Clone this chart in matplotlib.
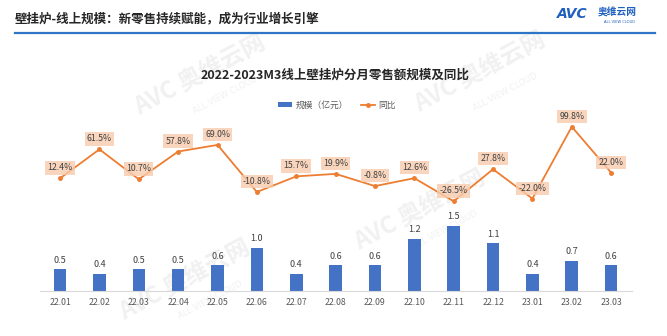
import numpy as np
import matplotlib
matplotlib.use("Agg")
import matplotlib.pyplot as plt
from matplotlib.lines import Line2D
from matplotlib.patches import Patch

plt.rcParams['font.family'] = ['Noto Sans CJK SC', 'DejaVu Sans']

# monthly online retail data
months = ['22.01', '22.02', '22.03', '22.04', '22.05', '22.06', '22.07', '22.08',
          '22.09', '22.10', '22.11', '22.12', '23.01', '23.02', '23.03']
scale = [0.5, 0.4, 0.5, 0.5, 0.6, 1.0, 0.4, 0.6, 0.6, 1.2, 1.5, 1.1, 0.4, 0.7, 0.6]
yoy = [12.4, 61.5, 10.7, 57.8, 69.0, -10.8, 15.7, 19.9, -0.8, 12.6, -26.5, 27.8, -22.0, 99.8, 22.0]

BLUE = '#4472C4'
ORANGE = '#ED7D31'
TEXT = '#404040'

fig = plt.figure(figsize=(6.67, 3.36), dpi=100)
fig.patch.set_facecolor('white')

# header
fig.text(15 / 667, 1 - 19 / 336, '壁挂炉-线上规模：新零售持续赋能，成为行业增长引擎',
         fontsize=9, fontweight='bold', color='#262626', va='center', ha='left')
fig.add_artist(Line2D([15 / 667, 655 / 667], [1 - 32.5 / 336] * 2, color='#2E75C8', lw=1.6))
fig.text(572 / 667, 1 - 14 / 336, 'AVC', fontsize=10, fontweight='bold', fontstyle='italic',
         color='#1F5FBF', ha='center', va='center', family=['DejaVu Sans'])
fig.text(617 / 667, 1 - 13 / 336, '奥维云网', fontsize=7, fontweight='bold',
         color='#1F5FBF', ha='center', va='center')
fig.text(619 / 667, 1 - 22 / 336, 'ALL VIEW CLOUD', fontsize=2.6,
         color='#1F5FBF', ha='center', va='center', family=['DejaVu Sans'])

# faint watermarks behind everything
for (wx, wy) in [(185, 280), (420, 210), (200, 75), (480, 72)]:
    fig.text(wx / 667, 1 - wy / 336, 'AVC 奥维云网', fontsize=17, fontweight='bold',
             color='#F1F1F1', rotation=28, ha='center', va='center', zorder=-5)
    fig.text((wx + 25) / 667, 1 - (wy + 20) / 336, 'ALL VIEW CLOUD', fontsize=6,
             color='#F1F1F1', rotation=28, ha='center', va='center', zorder=-5,
             family=['DejaVu Sans'])

fig.text(335 / 667, 1 - 75 / 336, '2022-2023M3线上壁挂炉分月零售额规模及同比',
         fontsize=9, fontweight='bold', color='#262626', ha='center', va='center')

ax = fig.add_axes([40 / 667, 45 / 336, 592 / 667, 176 / 336])
ax.patch.set_alpha(0)
x = np.arange(len(months))
ax.bar(x, scale, width=0.32, color=BLUE, zorder=2)
for xi, v in zip(x, scale):
    ax.text(xi, v + 0.1, f'{v:.1f}', ha='center', va='bottom', fontsize=6.5, color=TEXT)
ax.set_xlim(-0.51, 14.53)
ax.set_ylim(0, 176 / 43.5)
ax.set_xticks(x)
ax.set_xticklabels(months, fontsize=6.3, color='#595959')
ax.tick_params(axis='x', length=0, pad=5)
ax.set_yticks([])
for s in ['top', 'right', 'left']:
    ax.spines[s].set_visible(False)
ax.spines['bottom'].set_color('#D9D9D9')

ax2 = ax.twinx()
ax2.plot(x, yoy, color=ORANGE, lw=1.3, marker='o', markersize=2.5, zorder=3)
for xi, v in zip(x, yoy):
    ax2.annotate(f'{v:.1f}%', (xi, v), xytext=(0, 7.5), textcoords='offset points',
                 ha='center', va='center', fontsize=6.3, color=TEXT,
                 bbox=dict(boxstyle='square,pad=0.25', fc='#F8CBAD', ec='none', alpha=0.8))
ax2.set_ylim(-178.6, 119.7)
ax2.set_yticks([])
for s in ax2.spines.values():
    s.set_visible(False)

handles = [Patch(facecolor=BLUE, edgecolor='none'),
           Line2D([], [], color=ORANGE, lw=1.3, marker='o', markersize=2.5)]
fig.legend(handles, ['规模（亿元）', '同比'], loc='center', bbox_to_anchor=(337 / 667, 1 - 105 / 336),
           ncol=2, frameon=False, fontsize=6.3, handlelength=1.6, handleheight=0.5,
           columnspacing=1.5, handletextpad=0.4, labelcolor='#595959')

fig.savefig('out.png', dpi=100, facecolor='white')
